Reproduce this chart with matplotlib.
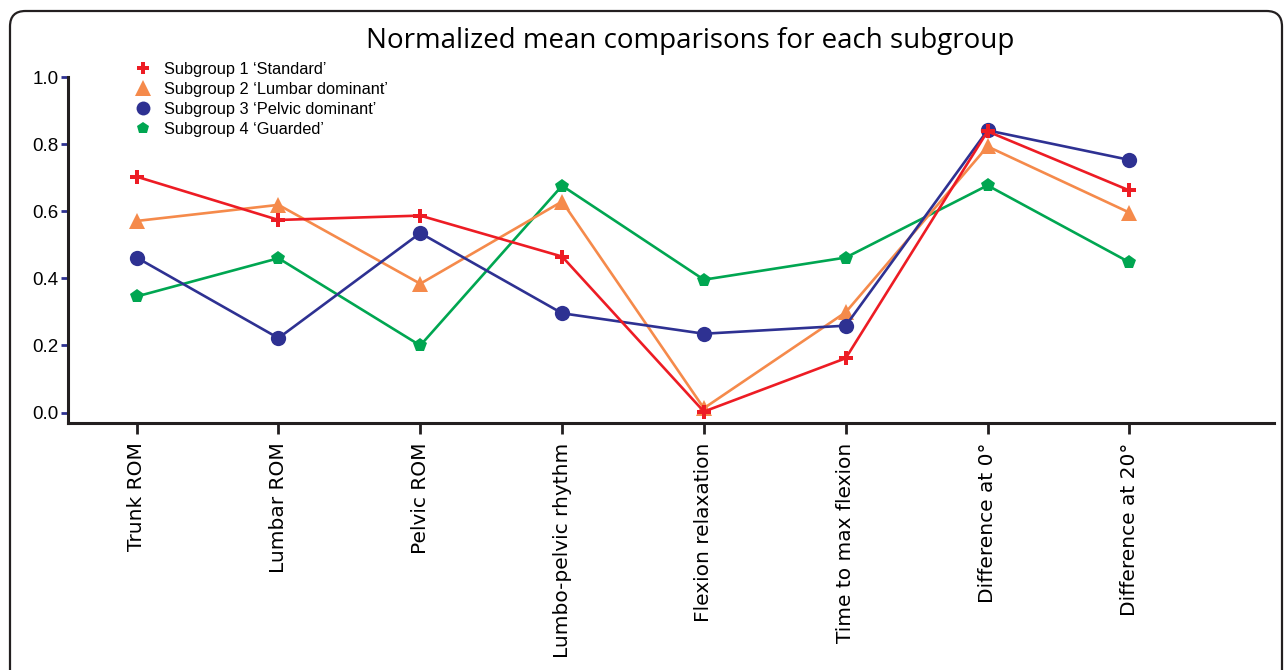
import matplotlib
matplotlib.use("Agg")
import matplotlib.pyplot as plt
from matplotlib.lines import Line2D
from matplotlib.patches import FancyBboxPatch

# categories and normalized means
categories = ["Trunk ROM", "Lumbar ROM", "Pelvic ROM", "Lumbo-pelvic rhythm",
              "Flexion relaxation", "Time to max flexion", "Difference at 0\u00b0",
              "Difference at 20\u00b0"]
standard = [0.703, 0.574, 0.587, 0.465, 0.003, 0.162, 0.838, 0.662]
lumbar_dom = [0.571, 0.619, 0.384, 0.629, 0.013, 0.299, 0.793, 0.596]
pelvic_dom = [0.462, 0.222, 0.535, 0.296, 0.235, 0.259, 0.841, 0.753]
guarded = [0.346, 0.460, 0.200, 0.676, 0.396, 0.462, 0.677, 0.448]
series_labels = ["Subgroup 1 \u2018Standard\u2019", "Subgroup 2 \u2018Lumbar dominant\u2019",
                 "Subgroup 3 \u2018Pelvic dominant\u2019", "Subgroup 4 \u2018Guarded\u2019"]
y_ticks = [0.0, 0.2, 0.4, 0.6, 0.8, 1.0]

colors = ["#ED1C24", "#F58A4B", "#2E3192", "#00A651"]
markers = ["P", "^", "o", "p"]
msizes = [10, 12, 11, 10]

fig = plt.figure(figsize=(12.87, 6.70), dpi=100)
ax = fig.add_axes([68 / 1287, 1 - 423 / 670, (1274 - 68) / 1287, (423 - 77) / 670])

x = list(range(len(categories)))
data = [standard, lumbar_dom, pelvic_dom, guarded]
# back-to-front drawing order, standard on top
order = [3, 1, 2, 0]
for z, i in enumerate(order):
    ax.plot(x, data[i], color=colors[i], lw=1.9, marker=markers[i], ms=msizes[i],
            markeredgewidth=0, clip_on=False, zorder=3 + z)

ax.set_xlim(-0.484, 8.02)
ax.set_ylim(-0.031, 1.0)
ax.set_xticks(x)
ax.set_xticklabels(categories, rotation=90, fontsize=14.5, family="DejaVu Sans", va="top")
ax.set_yticks(y_ticks)
ax.set_yticklabels(["%.1f" % v for v in y_ticks], fontsize=13.5, family="Liberation Sans")
ax.tick_params(axis="y", length=5, width=2, color="#2E3192", pad=2)
ax.tick_params(axis="x", length=8, width=2, color="#231F20", pad=6)

for s in ["top", "right"]:
    ax.spines[s].set_visible(False)
for s in ["left", "bottom"]:
    ax.spines[s].set_linewidth(2.2)
    ax.spines[s].set_color("#231F20")

fig.text(690 / 1287, 1 - 41 / 670, "Normalized mean comparisons for each subgroup",
         ha="center", va="center", fontsize=20, family="Open Sans")

handles = [Line2D([], [], color=colors[i], marker=markers[i], ms=msizes[i] - 1,
                  markeredgewidth=0, linestyle="none") for i in range(4)]
fig.legend(handles, series_labels, loc="upper left", bbox_to_anchor=(133 / 1287, 1 - 62 / 670),
           frameon=False, prop={"family": "Liberation Sans", "size": 11.8},
           handlelength=1.2, handletextpad=0.7, labelspacing=0.3, borderpad=0, borderaxespad=0)

# rounded frame around the whole figure
frame = FancyBboxPatch((10 / 1287, -0.2), 1272 / 1287, 1.2 - 11 / 670,
                       boxstyle="round,pad=0,rounding_size=0.012",
                       transform=fig.transFigure, fill=False, lw=1.6,
                       edgecolor="#231F20", mutation_aspect=1287 / 670)
fig.patches.append(frame)

fig.savefig("out.png", dpi=100)
